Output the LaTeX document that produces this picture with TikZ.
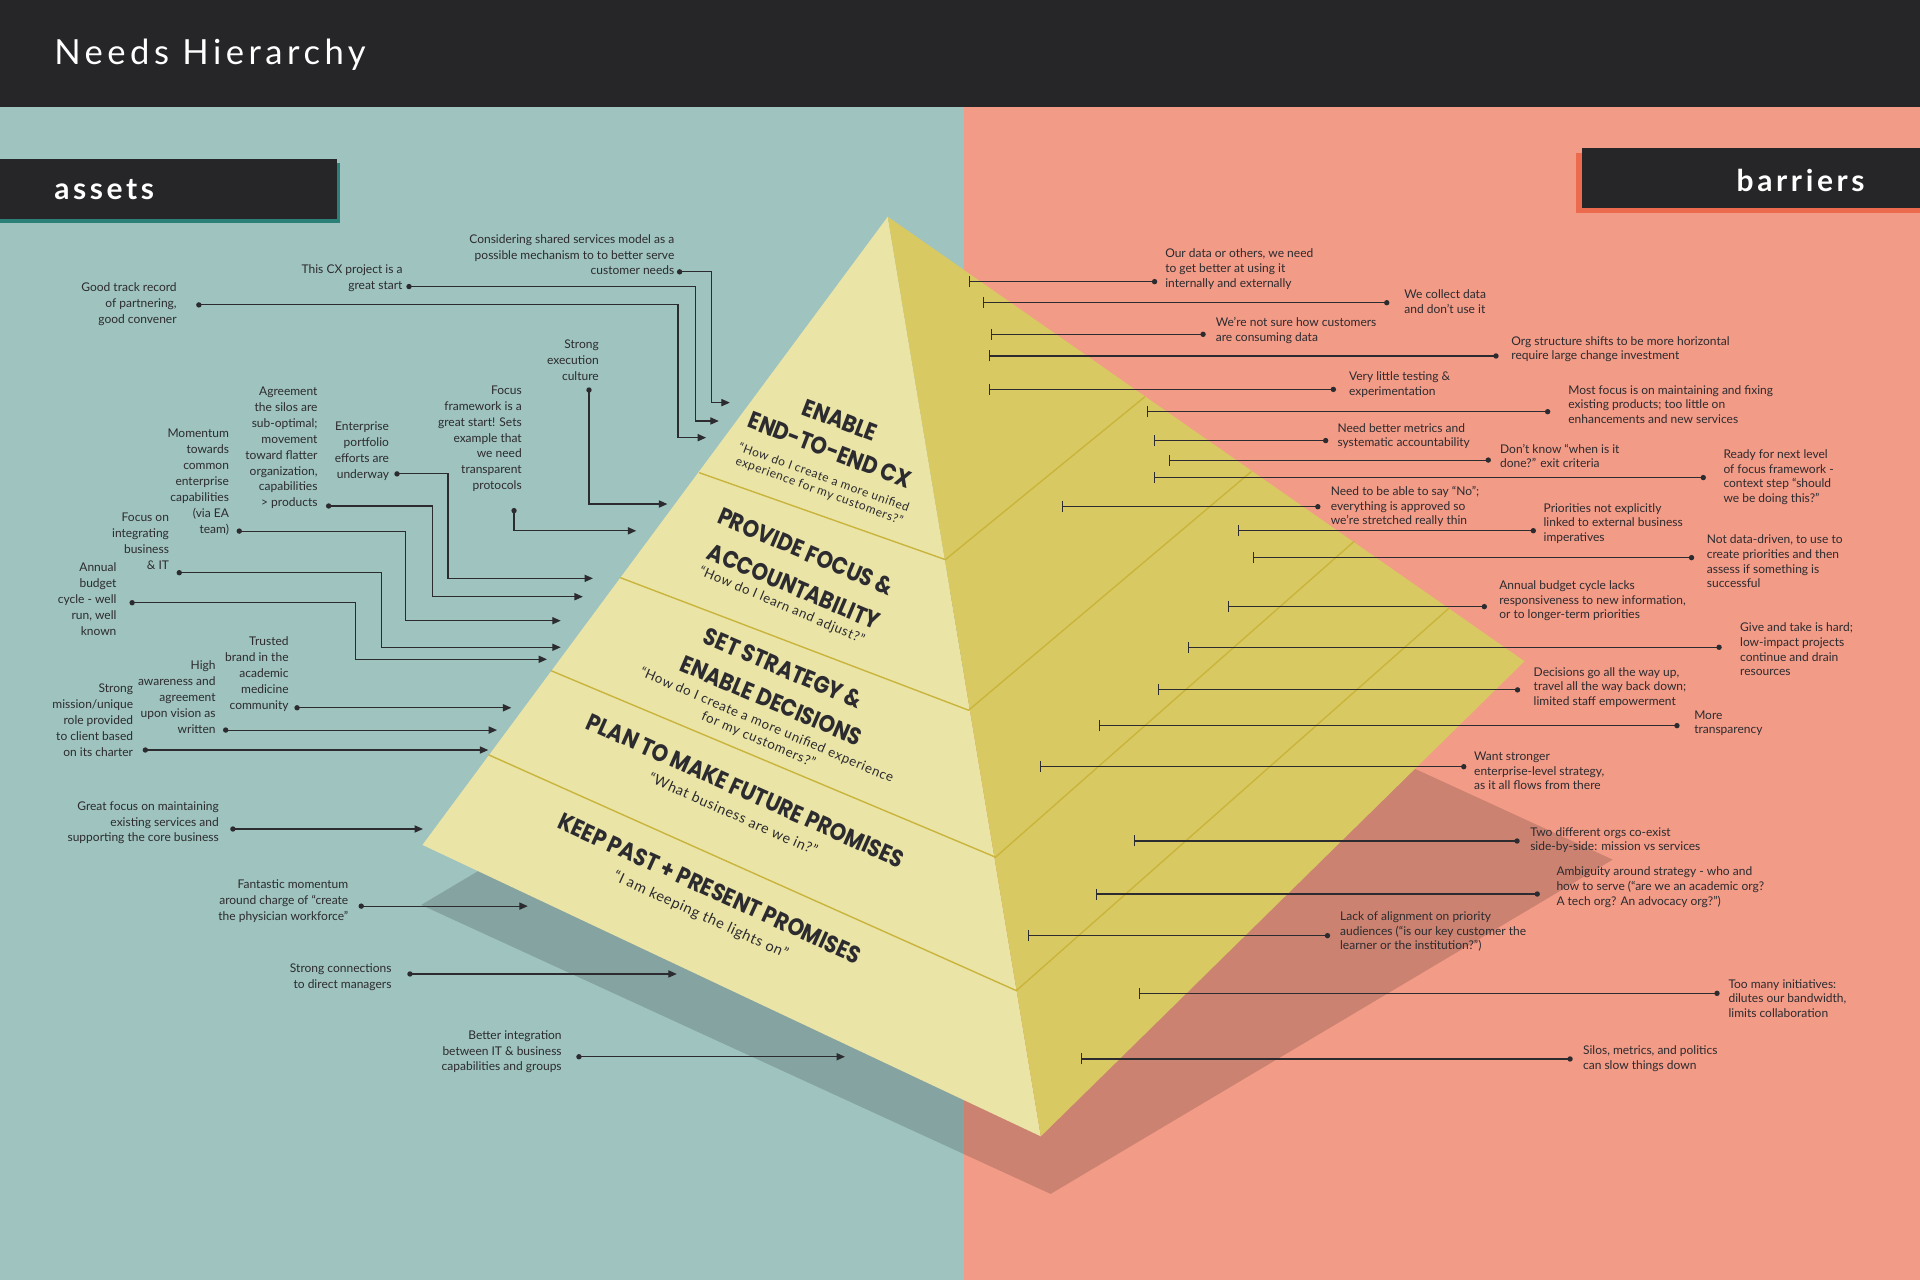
\documentclass[tikz,border=0pt]{standalone}
\usepackage{fontspec}
\usetikzlibrary{arrows.meta}
\setmainfont{Lato}
\newfontfamily\latof{Lato}
\newfontfamily\quotef{Lato}[LetterSpace=5]
\newfontfamily\titlef{Lato}[LetterSpace=13]
\newfontfamily\tagf{Lato}[LetterSpace=12]
\newfontfamily\headf{Poppins}[FakeStretch=0.87]
\definecolor{hdrc}{HTML}{262528}
\definecolor{tealbg}{HTML}{9FC3BF}
\definecolor{salbg}{HTML}{F29B87}
\definecolor{tealsh}{HTML}{2B8077}
\definecolor{salsh}{HTML}{EC6A4E}
\definecolor{faceL}{HTML}{EAE4A7}
\definecolor{faceR}{HTML}{D9C962}
\definecolor{bandc}{HTML}{C9B43C}
\definecolor{ink}{HTML}{2C2B2F}
\newcommand{\barrieritem}[7]{%
  \coordinate (#1t) at (#2,#3);
  \coordinate (#1d) at (#4,#3);
  \draw[barrierline] (#1t) -- (#1d);
  \fill[ink] (#1d) circle[radius=1.35pt];
  \node[labR] (#1) at (#5,#6) {#7};}
\begin{document}
\begin{tikzpicture}[x=0.612245pt,y=-0.612245pt,
  lab/.style={text=ink, inner sep=0pt},
  labL/.style={lab, align=right, anchor=east, font=\latof\fontsize{6.0}{7.95}\selectfont},
  labR/.style={lab, align=left, anchor=west, font=\latof\fontsize{6.0}{7.3}\selectfont},
  conn/.style={draw=ink, line width=0.55pt},
  assetline/.style={conn, arrows={-Triangle[length=4.2pt,width=3.6pt]}},
  barrierline/.style={conn, arrows={Bar[width=5.5pt]-}},
  head/.style={font=\headf\bfseries\fontsize{12}{12}\selectfont, text=ink, inner sep=0pt},
  quote/.style={font=\quotef\fontsize{#1}{#1}\selectfont, text=ink, inner sep=0pt},
  quote/.default=7.3,
  band/.style={draw=bandc, line width=0.7pt}]
\useasboundingbox (0,0) rectangle (1568,1045.33);
% backgrounds
\fill[tealbg] (0,87) rectangle (787,1045.33);
\fill[salbg] (787,87) rectangle (1568,1045.33);
\fill[hdrc] (0,0) rectangle (1568,87);
\node[anchor=base west, inner sep=0pt, text=white, font=\titlef\fontsize{17.3}{18}\selectfont] (title) at (44,53) {Needs Hierarchy};
% tags
\fill[tealsh] (0,133.4) rectangle (278,182.4);
\fill[hdrc] (0,130) rectangle (275,178.8);
\node[anchor=base west, inner sep=0pt, text=white, font=\tagf\bfseries\fontsize{15}{15}\selectfont] (assetstag) at (44,163.3) {assets};
\fill[salsh] (1287,125) rectangle (1568,174);
\fill[hdrc] (1292,121) rectangle (1568,170);
\node[anchor=base east, inner sep=0pt, text=white, font=\tagf\bfseries\fontsize{15}{15}\selectfont] (barrierstag) at (1523,156.5) {barriers};
% pyramid
\fill[black, fill opacity=0.16] (344,739) -- (858,975) -- (1317,702) -- (803,466) -- cycle;
\fill[faceL] (725,177) -- (345,690) -- (850,928) -- cycle;
\fill[faceR] (725,177) -- (1245,540) -- (850,928) -- cycle;
\draw[band] (571,386) -- (772,457) -- (935,324);
\draw[band] (506.5,471.7) -- (791,580) -- (1022,385);
\draw[band] (450,547.7) -- (813,700) -- (1106,442);
\draw[band] (399,616.4) -- (830,809) -- (1183,497);
% pyramid texts
\node[head, rotate=-21] (p1a) at (686,343) {ENABLE};
\node[head, rotate=-21] (p1b) at (678,367.5) {END-TO-END CX};
\node[quote=6.0, rotate=-20] (p1c) at (673,389.5) {“How do I create a more unified};
\node[quote=6.0, rotate=-20] (p1d) at (669,401) {experience for my customers?”};
\node[head, rotate=-23] (p2a) at (658,450.5) {PROVIDE FOCUS \&};
\node[head, rotate=-23] (p2b) at (648.4,479) {ACCOUNTABILITY};
\node[quote=6.6, rotate=-23] (p2c) at (638.4,494.5) {“How do I learn and adjust?”};
\node[head, rotate=-23] (p3a) at (639.7,545.8) {SET STRATEGY \&};
\node[head, rotate=-23] (p3b) at (630.2,572.2) {ENABLE DECISIONS};
\node[quote=6.65, rotate=-23] (p3c) at (626.1,592.5) {“How do I create a more unified experience};
\node[quote=6.65, rotate=-23] (p3d) at (619.3,604.3) {for my customers?”};
\node[head, rotate=-24] (p4a) at (609,645.7) {PLAN TO MAKE FUTURE PROMISES};
\node[quote=7.1, rotate=-24] (p4b) at (598.9,664.6) {“What business are we in?”};
\node[head, rotate=-24.5] (p5a) at (579.8,725.5) {KEEP PAST + PRESENT PROMISES};
\node[quote=7.3, rotate=-24.5] (p5b) at (572.2,747.5) {“I am keeping the lights on”};
% assets
\node[labL] (a1) at (551,208) {Considering shared services model as a\\possible mechanism to to better serve\\customer needs};
\coordinate (a1d) at (555,222); \coordinate (a1k) at (580.7,328.8); \coordinate (a1t) at (596,328.8);
\draw[assetline] (a1d) -| (a1k) -- (a1t); \fill[ink] (a1d) circle[radius=1.35pt];
\node[labL] (a2) at (329,227.5) {This CX project is a\\great start};
\coordinate (a2d) at (334,234); \coordinate (a2k) at (567.8,343.8); \coordinate (a2t) at (587,343.8);
\draw[assetline] (a2d) -| (a2k) -- (a2t); \fill[ink] (a2d) circle[radius=1.35pt];
\node[labL] (a3) at (144.6,248.4) {Good track record\\of partnering,\\good convener};
\coordinate (a3d) at (162.4,249); \coordinate (a3k) at (553.7,357.4); \coordinate (a3t) at (576.6,357.4);
\draw[assetline] (a3d) -| (a3k) -- (a3t); \fill[ink] (a3d) circle[radius=1.35pt];
\node[labL] (a4) at (489.3,294) {Strong\\execution\\culture};
\coordinate (a4d) at (481,318.5); \coordinate (a4t) at (545,411.6);
\draw[assetline] (a4d) |- (a4t); \fill[ink] (a4d) circle[radius=1.35pt];
\node[labL] (a5) at (426.4,358.3) {Focus\\framework is a\\great start! Sets\\example that\\we need\\transparent\\protocols};
\coordinate (a5d) at (419.8,417); \coordinate (a5t) at (519.6,433.5);
\draw[assetline] (a5d) |- (a5t); \fill[ink] (a5d) circle[radius=1.35pt];
\node[labL] (a6) at (318,368.2) {Enterprise\\portfolio\\efforts are\\underway};
\coordinate (a6d) at (324.2,387); \coordinate (a6k) at (365.9,472.3); \coordinate (a6t) at (484.2,472.3);
\draw[assetline] (a6d) -| (a6k) -- (a6t); \fill[ink] (a6d) circle[radius=1.35pt];
\node[labL] (a7) at (259.6,365.8) {Agreement\\the silos are\\sub-optimal;\\movement\\toward flatter\\organization,\\capabilities\\> products};
\coordinate (a7d) at (268.4,413.2); \coordinate (a7k) at (353.5,487.3); \coordinate (a7t) at (476,487.3);
\draw[assetline] (a7d) -| (a7k) -- (a7t); \fill[ink] (a7d) circle[radius=1.35pt];
\node[labL] (a8) at (187.3,393.7) {Momentum\\towards\\common\\enterprise\\capabilities\\(via EA\\team)};
\coordinate (a8d) at (195.4,433.7); \coordinate (a8k) at (331,506.9); \coordinate (a8t) at (457.9,506.9);
\draw[assetline] (a8d) -| (a8k) -- (a8t); \fill[ink] (a8d) circle[radius=1.35pt];
\node[labL] (a9) at (138.3,442.1) {Focus on\\integrating\\business\\\& IT};
\coordinate (a9d) at (146.4,467.7); \coordinate (a9k) at (311.8,528.6); \coordinate (a9t) at (457.9,528.6);
\draw[assetline] (a9d) -| (a9k) -- (a9t); \fill[ink] (a9d) circle[radius=1.35pt];
\node[labL] (a10) at (95.4,489.4) {Annual\\budget\\cycle - well\\run, well\\known};
\coordinate (a10d) at (107.9,492.2); \coordinate (a10k) at (290.5,538.4); \coordinate (a10t) at (446.7,538.4);
\draw[assetline] (a10d) -| (a10k) -- (a10t); \fill[ink] (a10d) circle[radius=1.35pt];
\node[labL] (a11) at (236,550.3) {Trusted\\brand in the\\academic\\medicine\\community};
\coordinate (a11d) at (242.6,578); \coordinate (a11t) at (417.6,578);
\draw[assetline] (a11d) -- (a11t); \fill[ink] (a11d) circle[radius=1.35pt];
\node[labL] (a12) at (176.4,569.4) {High\\awareness and\\agreement\\upon vision as\\written};
\coordinate (a12d) at (184.3,596.2); \coordinate (a12t) at (405.9,596.2);
\draw[assetline] (a12d) -- (a12t); \fill[ink] (a12d) circle[radius=1.35pt];
\node[labL] (a13) at (109,588.3) {Strong\\mission/unique\\role provided\\to client based\\on its charter};
\coordinate (a13d) at (118.7,612.5); \coordinate (a13t) at (398.7,612.5);
\draw[assetline] (a13d) -- (a13t); \fill[ink] (a13d) circle[radius=1.35pt];
\node[labL] (a14) at (179,671.9) {Great focus on maintaining\\existing services and\\supporting the core business};
\coordinate (a14d) at (190.2,677); \coordinate (a14t) at (345.4,677);
\draw[assetline] (a14d) -- (a14t); \fill[ink] (a14d) circle[radius=1.35pt];
\node[labL] (a15) at (284.7,735.7) {Fantastic momentum\\around charge of “create\\the physician workforce”};
\coordinate (a15d) at (295,740); \coordinate (a15t) at (431,740);
\draw[assetline] (a15d) -- (a15t); \fill[ink] (a15d) circle[radius=1.35pt];
\node[labL] (a16) at (320,797.7) {Strong connections\\to direct managers};
\coordinate (a16d) at (334.8,795.4); \coordinate (a16t) at (552.7,795.4);
\draw[assetline] (a16d) -- (a16t); \fill[ink] (a16d) circle[radius=1.35pt];
\node[labL] (a17) at (459,858.9) {Better integration\\between IT \& business\\capabilities and groups};
\coordinate (a17d) at (472.8,863); \coordinate (a17t) at (690,863);
\draw[assetline] (a17d) -- (a17t); \fill[ink] (a17d) circle[radius=1.35pt];
% barriers
\barrieritem{b1}{791.6}{230}{942.9}{951.3}{219.8}{Our data or others, we need\\to get better at using it\\internally and externally}
\barrieritem{b2}{802.4}{247.2}{1132.5}{1146.6}{246.1}{We collect data\\and don’t use it}
\barrieritem{b3}{809.6}{273}{982.5}{992.6}{269.9}{We’re not sure how customers\\are consuming data}
\barrieritem{b4}{807.8}{290.7}{1221.7}{1234}{285.2}{Org structure shifts to be more horizontal\\require large change investment}
\barrieritem{b5}{807.8}{318}{1088.9}{1101.4}{314}{Very little testing \&\\experimentation}
\barrieritem{b6}{936.7}{336.2}{1263.9}{1280.5}{330.2}{Most focus is on maintaining and fixing\\existing products; too little on\\enhancements and new services}
\barrieritem{b7}{942.6}{359.8}{1082.6}{1092}{356}{Need better metrics and\\systematic accountability}
\barrieritem{b8}{954.6}{375.7}{1215.4}{1224.8}{372.5}{Don’t know “when is it\\done?” exit criteria}
\barrieritem{b9}{942.6}{390}{1391}{1407.2}{389.6}{Ready for next level\\of focus framework -\\context step “should\\we be doing this?”}
\barrieritem{b10}{867.1}{413.8}{1076.2}{1086.5}{413.6}{Need to be able to say “No”;\\everything is approved so\\we’re stretched really thin}
\barrieritem{b11}{1011}{433.4}{1252.2}{1260.3}{427.3}{Priorities not explicitly\\linked to external business\\imperatives}
\barrieritem{b12}{1022.9}{455.4}{1381.4}{1393.6}{458.5}{Not data-driven, to use to\\create priorities and then\\assess if something is\\successful}
\barrieritem{b13}{1002.5}{495.4}{1212.2}{1224.1}{490.7}{Annual budget cycle lacks\\responsiveness to new information,\\or to longer-term priorities}
\barrieritem{b14}{970.2}{528.6}{1403.9}{1420.8}{530.4}{Give and take is hard;\\low-impact projects\\continue and drain\\resources}
\barrieritem{b15}{945.6}{563.4}{1239.3}{1252.2}{561.5}{Decisions go all the way up,\\travel all the way back down;\\limited staff empowerment}
\barrieritem{b16}{897.6}{592.6}{1369.5}{1383.3}{590.5}{More\\transparency}
\barrieritem{b17}{849.2}{626.1}{1195.4}{1203.6}{629.6}{Want stronger\\enterprise-level strategy,\\as it all flows from there}
\barrieritem{b18}{926.4}{686.8}{1238.9}{1249.4}{686}{Two different orgs co-exist\\side-by-side: mission vs services}
\barrieritem{b19}{895}{730.1}{1255.4}{1270.8}{724.5}{Ambiguity around strategy - who and\\how to serve (“are we an academic org?\\A tech org? An advocacy org?”)}
\barrieritem{b20}{839.5}{764.1}{1084.1}{1094.1}{760.9}{Lack of alignment on priority\\audiences (“is our key customer the\\learner or the institution?”)}
\barrieritem{b21}{930}{811.2}{1402.2}{1411.3}{815.3}{Too many initiatives:\\dilutes our bandwidth,\\limits collaboration}
\barrieritem{b22}{882.6}{864.8}{1282.2}{1292.5}{864.6}{Silos, metrics, and politics\\can slow things down}
\end{tikzpicture}
\end{document}
